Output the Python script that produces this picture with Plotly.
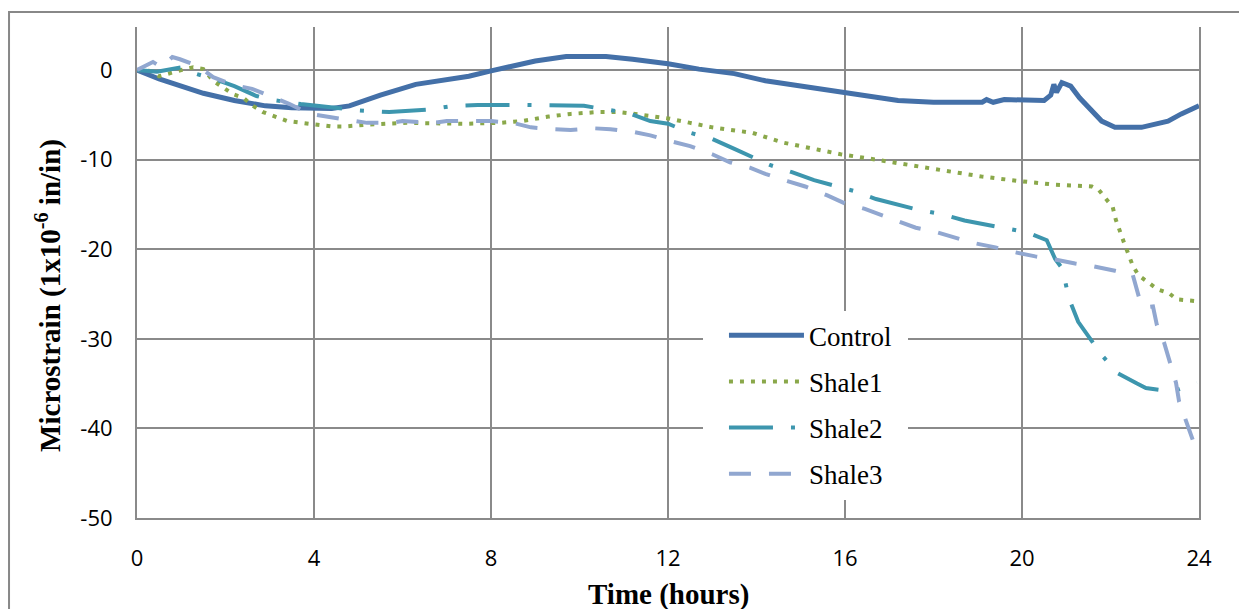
import plotly.graph_objects as go

# ---- data (hours, microstrain) ----
control_t = [0, 0.5, 1.0, 1.5, 2.2, 2.9, 3.5, 4.4, 4.8, 5.5, 6.3, 7.0, 7.5, 8.0, 8.5, 9.0, 9.7, 10.6,
             11.2, 12.0, 12.7, 13.5, 14.2, 15.0, 15.4, 16.1, 17.2, 18.0, 19.1, 19.2, 19.35, 19.6, 20.5,
             20.65, 20.72, 20.78, 20.9, 21.1, 21.3, 21.8, 22.1, 22.7, 23.3, 23.6, 24.0]
control_v = [0, -1.0, -1.8, -2.6, -3.4, -4.0, -4.2, -4.3, -4.0, -2.8, -1.6, -1.1, -0.7, -0.1, 0.5, 1.0,
             1.5, 1.5, 1.2, 0.7, 0.1, -0.4, -1.2, -1.8, -2.1, -2.7, -3.4, -3.6, -3.6, -3.3, -3.6, -3.3,
             -3.4, -2.8, -1.6, -2.5, -1.4, -1.8, -3.1, -5.7, -6.4, -6.4, -5.7, -4.9, -4.0]

shale1_t = [0, 0.3, 0.5, 0.75, 1.0, 1.27, 1.5, 1.72, 1.94, 2.17, 2.4, 2.62, 2.85, 3.1, 3.4, 3.9, 4.4,
            4.7, 5.2, 6.1, 7.4, 8.2, 8.7, 9.3, 9.8, 10.4, 10.9, 11.4, 12.0, 12.5, 13.0, 13.9, 14.6,
            15.4, 15.9, 16.7, 17.6, 18.4, 19.1, 19.95, 20.75, 21.58, 21.74, 21.9, 22.05, 22.12, 22.2,
            22.3, 22.4, 22.5, 22.63, 22.85, 23.07, 23.32, 23.5, 23.95]
shale1_v = [0, -0.1, -0.7, -0.3, 0.0, 0.3, 0.1, -1.2, -1.9, -2.7, -3.1, -4.0, -4.7, -5.2, -5.7, -6.0,
            -6.3, -6.3, -6.1, -5.9, -6.0, -5.9, -5.7, -5.2, -4.9, -4.7, -4.7, -5.0, -5.4, -5.9, -6.4,
            -7.0, -8.1, -8.9, -9.4, -10.0, -10.7, -11.3, -11.9, -12.4, -12.8, -13.0, -13.4, -14.4,
            -15.3, -16.7, -17.9, -19.2, -20.5, -21.8, -22.9, -23.7, -24.5, -24.9, -25.6, -25.8]

shale2_t = [0, 0.45, 1.0, 1.25, 1.8, 2.2, 2.7, 3.0, 3.7, 4.66, 5.0, 5.7, 6.35, 6.6, 7.15, 7.7, 8.65,
            9.6, 10.1, 10.6, 11.1, 11.6, 12.0, 12.5, 13.0, 13.5, 14.3, 14.8, 15.3, 16.2, 16.7, 17.65,
            18.2, 18.7, 19.6, 20.1, 20.56, 20.75, 20.9, 20.95, 21.06, 21.27, 21.8, 22.15, 22.6, 22.8,
            23.4, 23.95]
shale2_v = [0, -0.2, 0.3, -0.3, -1.1, -1.8, -2.9, -3.3, -3.8, -4.3, -4.5, -4.7, -4.5, -4.4, -4.0,
            -3.9, -3.9, -3.9, -4.0, -4.4, -4.8, -5.7, -6.0, -7.0, -7.7, -8.8, -10.6, -11.4, -12.3,
            -13.5, -14.4, -15.6, -16.1, -16.8, -17.6, -18.1, -19.0, -21.1, -22.1, -23.0, -25.5,
            -28.1, -31.8, -33.8, -35.0, -35.5, -35.9, -34.9]

shale3_t = [0, 0.36, 0.55, 0.8, 0.97, 1.38, 1.72, 2.2, 2.6, 3.1, 3.45, 3.9, 4.3, 4.8, 5.2, 5.75, 6.0,
            6.7, 7.0, 7.6, 8.0, 8.5, 8.9, 9.4, 9.8, 10.3, 10.7, 11.2, 11.6, 12.1, 12.5, 13.0, 13.4,
            13.85, 14.2, 14.7, 15.1, 15.6, 16.0, 16.45, 17.2, 17.6, 18.0, 18.5, 18.9, 19.4, 19.8,
            20.3, 20.7, 21.2, 21.6, 22.1, 22.5, 22.64, 22.78, 22.96, 23.05, 23.21, 23.34, 23.48,
            23.55, 23.71, 23.86]
shale3_v = [0, 0.9, 0.3, 1.45, 1.2, 0.45, -0.8, -1.7, -2.1, -3.1, -3.8, -4.9, -5.2, -5.5, -5.9, -5.9,
            -5.7, -5.9, -5.7, -5.7, -5.7, -5.9, -6.4, -6.6, -6.7, -6.5, -6.6, -6.9, -7.3, -8.0, -8.5,
            -9.4, -10.3, -10.9, -11.6, -12.4, -13.0, -14.0, -14.9, -15.5, -16.8, -17.6, -18.0, -18.7,
            -19.3, -19.8, -20.3, -20.8, -21.1, -21.6, -21.9, -22.4, -22.8, -25.3, -26.5, -26.4,
            -28.5, -30.4, -32.4, -34.9, -37.0, -39.4, -41.3]

series_names = ["Control", "Shale1", "Shale2", "Shale3"]
x_ticks = [0, 4, 8, 12, 16, 20, 24]
x_ticktext = ["0", "4", "8", "12", "16", "20", "24"]
y_ticks = [0, -10, -20, -30, -40, -50]
y_ticktext = ["0", "-10", "-20", "-30", "-40", "-50"]
x_title = "Time (hours)"
y_title = "Microstrain (1x10<sup>-6</sup> in/in)"

styles = [
    dict(color="#4470A8", width=5, dash="solid"),
    dict(color="#8AA84A", width=4, dash="4px,7px"),
    dict(color="#3D96AE", width=4, dash="44px,18px,4px,18px"),
    dict(color="#91A7D0", width=4, dash="22px,18px"),
]

fig = go.Figure()
for name, t, v, st in zip(series_names,
                          [control_t, shale1_t, shale2_t, shale3_t],
                          [control_v, shale1_v, shale2_v, shale3_v],
                          styles):
    fig.add_trace(go.Scatter(x=t, y=v, mode="lines", name=name, line=st, legendgroup=name))

grid = "#8A8A8A"
tickfont = dict(family="Open Sans", size=22, color="black")
fig.update_layout(
    width=1239, height=609,
    margin=dict(l=137, r=40, t=27, b=91, autoexpand=False),
    paper_bgcolor="white", plot_bgcolor="white",
    showlegend=True,
    legend=dict(x=0.5527, y=0.421, xanchor="left", yanchor="top",
                bgcolor="white", borderwidth=0,
                font=dict(family="Liberation Serif", size=27, color="black"),
                tracegroupgap=8, itemwidth=75, traceorder="grouped"),
    xaxis=dict(range=[0, 24], tickvals=x_ticks, ticktext=x_ticktext, showgrid=True,
               gridcolor=grid, gridwidth=2,
               showline=True, linecolor=grid, linewidth=2, zeroline=False,
               ticks="outside", ticklen=20, tickcolor="rgba(0,0,0,0)", tickfont=tickfont),
    yaxis=dict(range=[-50, 4.8], tickvals=y_ticks, ticktext=y_ticktext, showgrid=True,
               gridcolor=grid, gridwidth=2,
               showline=True, mirror=True, linecolor=grid, linewidth=2, zeroline=False,
               ticks="outside", ticklen=18, tickcolor="rgba(0,0,0,0)", tickfont=tickfont),
)

titlefont = dict(family="Liberation Serif", size=29, color="black")
fig.add_annotation(text="<b>" + x_title + "</b>", xref="paper", yref="paper",
                   x=0.5, y=-0.155, xanchor="center", yanchor="middle",
                   showarrow=False, font=titlefont)
fig.add_annotation(text="<b>" + y_title + "</b>", xref="paper", yref="paper",
                   x=-0.084, y=0.454, xanchor="center", yanchor="middle", textangle=-90,
                   showarrow=False, font=titlefont)

# white backing behind the legend (hides gridlines like the original)
fig.add_shape(type="rect", xref="paper", yref="paper",
              x0=(703 - 137) / 1062, x1=(908 - 137) / 1062,
              y0=(518 - 500) / 491, y1=(518 - 315) / 491,
              line=dict(width=0), fillcolor="white", layer="above")

# outer chart border
fig.add_shape(type="rect", xref="paper", yref="paper",
              x0=-0.1205, x1=1.05, y0=-0.25, y1=1.0305,
              line=dict(color="#888888", width=2), fillcolor="rgba(0,0,0,0)", layer="below")

fig.write_html("out.html", config={"displayModeBar": False},
               post_script="document.body.style.margin='0';document.body.style.padding='0';")
